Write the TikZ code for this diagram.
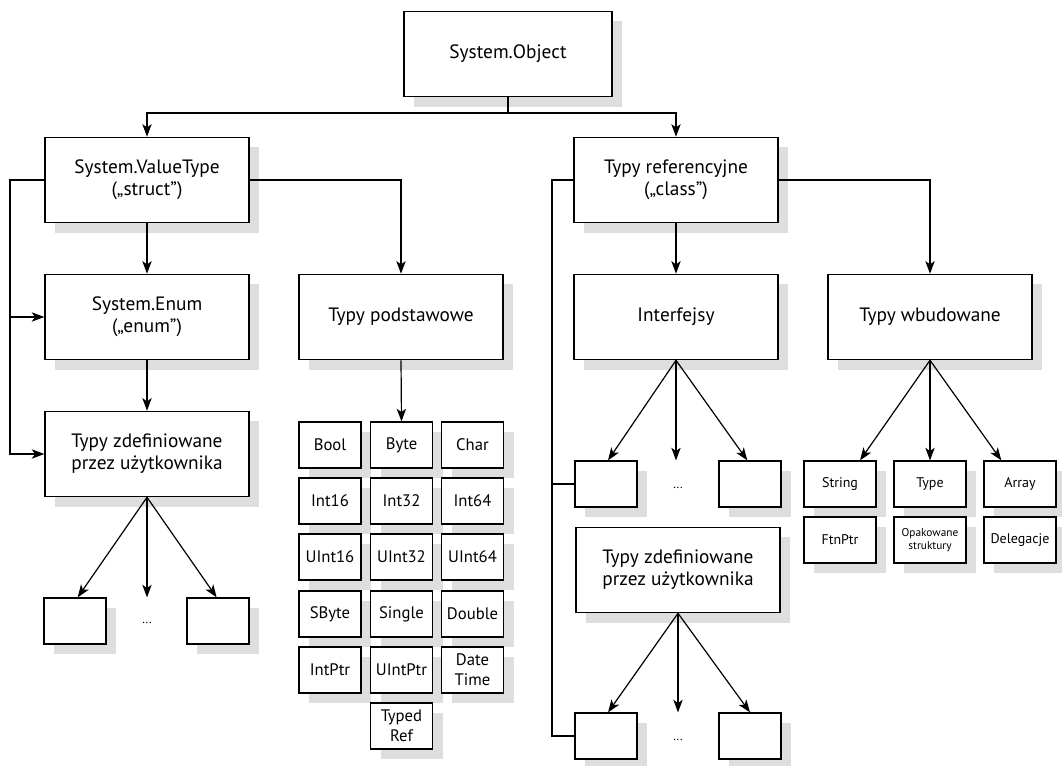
\documentclass[tikz,border=0pt]{standalone}
\usepackage{fontspec}
\setmainfont{PT Sans}
\usepackage{xcolor}
\usepackage{tikz}
\usetikzlibrary{arrows.meta,shadows}

\begin{document}
\begin{tikzpicture}[x=0.75pt, y=-0.75pt,
		box/.style={draw, line width=0.9pt, fill=white, align=center, inner sep=1pt,
			drop shadow={shadow xshift=7.5pt, shadow yshift=-7.5pt, opacity=1, fill=black!13}},
		bigbox/.style={box, minimum width=153pt, minimum height=64pt, font=\fontsize{14.5}{16.5}\selectfont},
		typebox/.style={box, minimum width=46.5pt, minimum height=34.5pt, font=\fontsize{12.5}{15}\selectfont},
		leafbox/.style={box, minimum width=46.5pt, minimum height=34.5pt},
		builtbox/.style={box, minimum width=54pt, minimum height=34.5pt, font=\fontsize{10.5}{12}\selectfont},
		wire/.style={line width=0.9pt},
		arr/.style={wire, -{Stealth[length=9.5pt, width=7pt, inset=2.5pt]}}]
		\useasboundingbox (0, 0) rectangle (1062, 765);
		\node[bigbox, minimum width=156pt] (obj) at (508, 54) {System.Object};
		\coordinate (split) at (508, 113);
		%
		%% Value types
		\node[bigbox] (vt) at (147, 180) {System.ValueType\\(„struct”)};
		\node[bigbox] (enum) at (147, 317) {System.Enum\\(„enum”)};
		\node[bigbox] (prim) at (401, 317) {Typy podstawowe};
		\node[bigbox] (udtA) at (147, 454) {Typy zdefiniowane\\przez użytkownika};
		\node[leafbox] (vA) at (75, 621) {}; \node[leafbox] (vB) at (218, 621) {};
		\node[font=\small] (vdots) at (147, 623) {...};
		\coordinate (lbus) at (10, 454);
		%
		%% Primitive types
		\node[typebox] (bool) at (330, 445) {Bool}; \node[typebox] (byte) at (401.5, 445) {Byte};
		\node[typebox] (char) at (472.5, 445) {Char};
		\node[typebox] (i16) at (330, 501) {Int16}; \node[typebox] (i32) at (401.5, 501) {Int32};
		\node[typebox] (i64) at (472.5, 501) {Int64};
		\node[typebox] (u16) at (330, 557) {UInt16}; \node[typebox] (u32) at (401.5, 557) {UInt32};
		\node[typebox] (u64) at (472.5, 557) {UInt64};
		\node[typebox] (sbyte) at (330, 614) {SByte}; \node[typebox] (single) at (401.5, 614) {Single};
		\node[typebox] (double) at (472.5, 614) {Double};
		\node[typebox] (iptr) at (330, 670) {IntPtr}; \node[typebox] (uptr) at (401.5, 670) {UIntPtr};
		\node[typebox] (date) at (472.5, 670) {Date\\Time};
		\node[typebox] (tref) at (401.5, 726) {Typed\\Ref};
		%
		%% Reference types
		\node[bigbox] (ref) at (676, 180) {Typy referencyjne\\(„class”)};
		\node[bigbox] (iface) at (676, 317) {Interfejsy};
		\node[bigbox] (built) at (930, 317) {Typy wbudowane};
		\node[leafbox] (iA) at (606, 484) {}; \node[leafbox] (iB) at (750, 484) {};
		\node[font=\small] (idots) at (678, 488) {...};
		\node[bigbox] (udtB) at (678, 570) {Typy zdefiniowane\\przez użytkownika};
		\node[leafbox] (uA) at (606, 736) {}; \node[leafbox] (uB) at (750, 736) {};
		\node[font=\small] (udots) at (678, 740) {...};
		\coordinate (rbus) at (552, 736);
		%
		%% Built-in types
		\node[builtbox] (string) at (840, 484) {String}; \node[builtbox] (type) at (930, 484) {Type};
		\node[builtbox] (array) at (1020, 484) {Array};
		\node[builtbox] (ftn) at (840, 540) {FtnPtr};
		\node[builtbox, font=\fontsize{8.5}{10}\selectfont] (boxed) at (930, 540) {Opakowane\\struktury};
		\node[builtbox] (deleg) at (1020, 540) {Delegacje};
		% Drawing the edges
		\draw[wire] (obj.south) -- (split);
		\draw[arr] (split) -| (vt.north); \draw[arr] (split) -| (ref.north);
		%% Left tree
		\draw[arr] (vt.south) -- (enum.north); \draw[arr] (enum.south) -- (udtA.north);
		\draw[arr] (vt.east) -| (prim.north); \draw[arr] (prim.south) -- (byte.north);
		\draw[arr] (vt.west) -| (lbus) -- (udtA.west);
		\draw[arr] (lbus |- enum.west) -- (enum.west);
		\draw[arr] (udtA.south) -- ([xshift=2pt]vA.north);
		\draw[arr] (udtA.south) -- (udtA.south |- vA.north);
		\draw[arr] (udtA.south) -- ([xshift=-1pt]vB.north);
		%% Right tree
		\draw[arr] (ref.south) -- (iface.north); \draw[arr] (ref.east) -| (built.north);
		\draw[wire] (ref.west) -| (rbus) -- (uA.west);
		\draw[wire] (rbus |- iA.west) -- (iA.west);
		\draw[arr] (iface.south) -- ([xshift=1.5pt]iA.north);
		\draw[arr] (iface.south) -- (iface.south |- iA.north);
		\draw[arr] (iface.south) -- ([xshift=-2pt]iB.north);
		\draw[arr] (udtB.south) -- ([xshift=1.5pt]uA.north);
		\draw[arr] (udtB.south) -- (udtB.south |- uA.north);
		\draw[arr] (udtB.south) -- (uB.north);
		\draw[arr] (built.south) -- ([xshift=15pt]string.north);
		\draw[arr] (built.south) -- (type.north);
		\draw[arr] (built.south) -- ([xshift=-14pt]array.north);
	\end{tikzpicture}
\end{document}
